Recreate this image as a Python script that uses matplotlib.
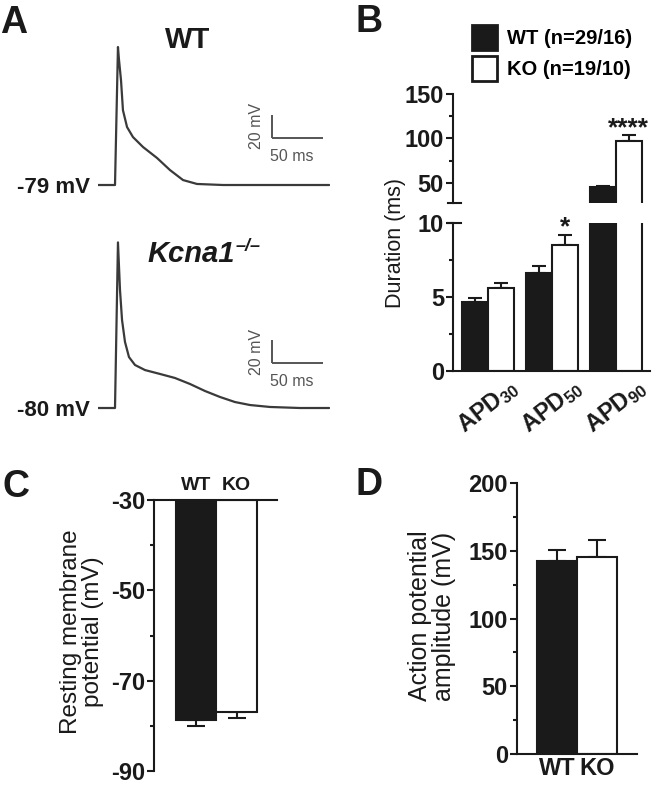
import matplotlib
matplotlib.use('Agg')
import matplotlib.pyplot as plt
from matplotlib.patches import Patch
from matplotlib.text import Annotation
import numpy as np

plt.rcParams['font.family'] = ['Liberation Sans', 'DejaVu Sans']
plt.rcParams['axes.unicode_minus'] = False
plt.rcParams['mathtext.fontset'] = 'custom'
plt.rcParams['mathtext.rm'] = 'Liberation Sans'
plt.rcParams['mathtext.bf'] = 'Liberation Sans:bold'
plt.rcParams['mathtext.it'] = 'Liberation Sans:italic'

# ---------------- data ----------------
# Panel A: representative action potential traces (time in ms, membrane potential in mV)
wt_t = [-16.7, 0, 2.9, 3.9, 5.9, 7.8, 11.8, 17.6, 27.5, 41.2, 53.9, 66.7, 80.4, 105.9, 210]
wt_v = [-79, -79, 41, 30, 12, -14, -28.6, -37.3, -46, -55.5, -66, -74.7, -78.1, -79, -79]
ko_t = [-16.7, 0, 2.9, 4.9, 6.9, 9.8, 13.7, 19.6, 29.4, 44.1, 58.8, 73.5, 88.2, 102.9,
        117.6, 132.3, 151.9, 181.3, 210]
ko_v = [-80, -80, 64, 22.6, -3.5, -22.6, -35.7, -42.6, -47, -50.4, -53.9, -59.1, -65.2,
        -70.4, -74.8, -77.4, -79.1, -80, -80]
wt_rest = -79
ko_rest = -80
scale_ms = 50
scale_mv = 20

# Panel B: action potential durations (ms)
apd_levels = ['30', '50', '90']
wt_apd = [4.67, 6.6, 45.0]
wt_apd_err = [0.27, 0.5, 1.0]
ko_apd = [5.58, 8.5, 97.0]
ko_apd_err = [0.35, 0.7, 7.0]
apd_sig = ['', '*', '****']
wt_legend = 'WT (n=29/16)'
ko_legend = 'KO (n=19/10)'

# Panel C: resting membrane potential (mV)
groups = ['WT', 'KO']
rmp = [-78.7, -76.9]
rmp_err = [1.3, 1.3]

# Panel D: action potential amplitude (mV)
amp = [142.4, 145.2]
amp_err = [8.2, 12.7]

# ---------------- figure ----------------
W, H = 660, 789
fig = plt.figure(figsize=(W / 100, H / 100), dpi=100)
INK = '#1a1a1a'
TRACE = '#3a3a3a'
GREY = '#555555'
TICK_FS = 17


def add_ax(x0, y0, x1, y1):
    return fig.add_axes([x0 / W, 1 - y1 / H, (x1 - x0) / W, (y1 - y0) / H])


def ftext(x, y, s, **kw):
    return fig.text(x / W, 1 - y / H, s, **kw)


def style_axis(ax, spines):
    for k, sp in ax.spines.items():
        sp.set_visible(k in spines)
        sp.set_linewidth(1.5)
        sp.set_color(INK)
    ax.tick_params(axis='y', which='major', length=5, width=1.5, direction='out',
                   pad=1.5, colors=INK, labelsize=TICK_FS)
    ax.tick_params(axis='y', which='minor', length=3, width=1.5, direction='out', colors=INK)
    ax.set_facecolor('none')


# ---------- Panel A ----------
def trace_axes(box, ylims, t, v, rest, sb_origin, label):
    ax = add_ax(*box)
    ax.set_xlim(-16.67, 210.8)
    ax.set_ylim(*ylims)
    ax.axis('off')
    ax.plot(t, v, color=TRACE, lw=1.6, solid_joinstyle='round', solid_capstyle='round')
    x0, y0 = sb_origin
    ax.plot([x0, x0 + scale_ms], [y0, y0], color=GREY, lw=1.4, solid_capstyle='butt')
    ax.plot([x0, x0], [y0, y0 + scale_mv], color=GREY, lw=1.4, solid_capstyle='butt')
    ax.text(x0 - 15, y0 + scale_mv / 2, f'{scale_mv} mV', rotation=90, ha='center',
            va='center', fontsize=11.5, color=GREY)
    ax.text(x0 + 19.5, y0 - 16, f'{scale_ms} ms', ha='center', va='center',
            fontsize=11.5, color=GREY)
    ax.text(-25, rest - 2, label, ha='right', va='center', fontsize=16,
            fontweight='bold', color=INK, clip_on=False)
    return ax


trace_axes((98, 40, 330, 200), (-92.04, 47.09), wt_t, wt_v, wt_rest, (154, -38),
           f'{wt_rest} mV')
trace_axes((98, 235, 330, 420), (-90.43, 70.43), ko_t, ko_v, ko_rest, (154, -40.9),
           f'{ko_rest} mV')
ftext(188, 48, 'WT', ha='center', va='baseline', fontsize=21, fontweight='bold', color=INK)
kt = ftext(147, 262, 'Kcna1', ha='left', va='baseline', fontsize=21, fontweight='bold',
           style='italic', color=INK)
fig.add_artist(Annotation('\u2013/\u2013', xy=(1.0, 1.0), xycoords=kt,
                          xytext=(1.0, 1.5), textcoords='offset points',
                          ha='left', va='top', fontsize=13,
                          fontweight='bold', style='italic', color=INK))

# ---------- Panel B ----------
axBl = add_ax(453, 222.7, 650, 371)
axBu = add_ax(453, 94, 650, 203.3)
xg = np.arange(len(apd_levels))
bw = 0.4
for ax in (axBl, axBu):
    ax.bar(xg - bw / 2, wt_apd, bw, color=INK, edgecolor=INK, lw=1.5, zorder=2)
    ax.bar(xg + bw / 2, ko_apd, bw, color='white', edgecolor=INK, lw=1.5, zorder=2)
    ax.errorbar(xg - bw / 2, wt_apd, yerr=[np.zeros(3), wt_apd_err], fmt='none',
                ecolor=INK, elinewidth=1.5, capsize=5, capthick=1.5, zorder=1)
    ax.errorbar(xg + bw / 2, ko_apd, yerr=[np.zeros(3), ko_apd_err], fmt='none',
                ecolor=INK, elinewidth=1.5, capsize=5, capthick=1.5, zorder=1)
    ax.set_xlim(-0.547, 2.531)
    ax.tick_params(axis='x', length=0)

style_axis(axBl, ('left', 'bottom'))
style_axis(axBu, ('left',))
axBl.set_ylim(0, 10)
axBl.set_yticks([0, 5, 10], labels=['0', '5', '10'], fontweight='bold')
axBl.set_yticks([2.5, 7.5], minor=True)
axBu.set_ylim(27, 150)
axBu.set_yticks([50, 100, 150], labels=['50', '100', '150'], fontweight='bold')
axBu.set_yticks([75, 125], minor=True)
axBu.set_xticks([])
axBl.set_xticks(xg, labels=[r'APD$_{\mathbf{' + s + '}}$' for s in apd_levels],
                rotation=38, ha='center', fontweight='bold', fontsize=17, color=INK)
axBl.tick_params(axis='x', pad=3)
# axis break marks
axBl.plot([-0.025, 0.04], [1, 1], transform=axBl.transAxes, clip_on=False, color=INK, lw=1.5)
axBu.plot([-0.025, 0.04], [0, 0], transform=axBu.transAxes, clip_on=False, color=INK, lw=1.5)
# significance marks
for i, s in enumerate(apd_sig):
    if not s:
        continue
    top = ko_apd[i] + ko_apd_err[i]
    target = axBu if top > 10 else axBl
    target.text(i + bw / 2, top, s, ha='center', va='baseline', fontsize=19,
                fontweight='bold', color=INK)
ftext(396, 243.5, 'Duration (ms)', rotation=90, ha='center', va='center', fontsize=15.5,
      color=INK)
fig.legend(handles=[Patch(facecolor=INK, edgecolor=INK, lw=2, label=wt_legend),
                    Patch(facecolor='white', edgecolor=INK, lw=2, label=ko_legend)],
           loc='upper left', bbox_to_anchor=(472 / W, 1 - 25 / H), frameon=False,
           prop={'size': 14.5, 'weight': 'bold'}, handlelength=1.25, handleheight=1.55,
           handletextpad=0.5, labelspacing=0.3, borderpad=0, borderaxespad=0)

# ---------- Panel C ----------
axC = add_ax(154, 500, 277, 771)
xc = np.arange(len(groups))
axC.bar(xc, [v - (-30) for v in rmp], 1.0, bottom=-30, color=[INK, 'white'],
        edgecolor=INK, lw=1.5, zorder=2)
axC.errorbar(xc, rmp, yerr=[rmp_err, np.zeros(2)], fmt='none', ecolor=INK,
             elinewidth=1.5, capsize=6.5, capthick=1.5, zorder=1)
axC.set_xlim(-1.04, 2.0)
axC.set_ylim(-90, -30)
style_axis(axC, ('left', 'top'))
axC.set_yticks([-30, -50, -70, -90], labels=['-30', '-50', '-70', '-90'], fontweight='bold')
axC.set_yticks([-40, -60, -80], minor=True)
axC.xaxis.tick_top()
axC.set_xticks(xc, labels=groups, fontweight='bold', fontsize=14, color=INK)
axC.tick_params(axis='x', length=0, pad=4)
ftext(82, 632, 'Resting membrane\npotential (mV)', rotation=90, ha='center', va='center',
      fontsize=17.5, linespacing=1.0, color=INK)

# ---------- Panel D ----------
axD = add_ax(517, 483, 637, 754)
axD.bar(xc, amp, 1.0, color=[INK, 'white'], edgecolor=INK, lw=1.5, zorder=2)
axD.errorbar(xc, amp, yerr=[np.zeros(2), amp_err], fmt='none', ecolor=INK,
             elinewidth=1.5, capsize=6.5, capthick=1.5, zorder=1)
axD.set_xlim(-1.0, 2.0)
axD.set_ylim(0, 200)
style_axis(axD, ('left', 'bottom'))
axD.set_yticks([0, 50, 100, 150, 200], labels=['0', '50', '100', '150', '200'],
               fontweight='bold')
axD.set_yticks([25, 75, 125, 175], minor=True)
axD.set_xticks(xc, labels=groups, fontweight='bold', fontsize=17, color=INK)
axD.tick_params(axis='x', length=0, pad=2)
ftext(432, 616, 'Action potential\namplitude (mV)', rotation=90, ha='center', va='center',
      fontsize=18, linespacing=1.0, color=INK)

# ---------- panel letters ----------
for lx, ly, letter in [(0, 33, 'A'), (355, 32, 'B'), (3, 497, 'C'), (355, 495, 'D')]:
    ftext(lx, ly, letter, ha='left', va='baseline', fontsize=27, fontweight='bold', color=INK)

fig.savefig('out.png', dpi=100, facecolor='white')
